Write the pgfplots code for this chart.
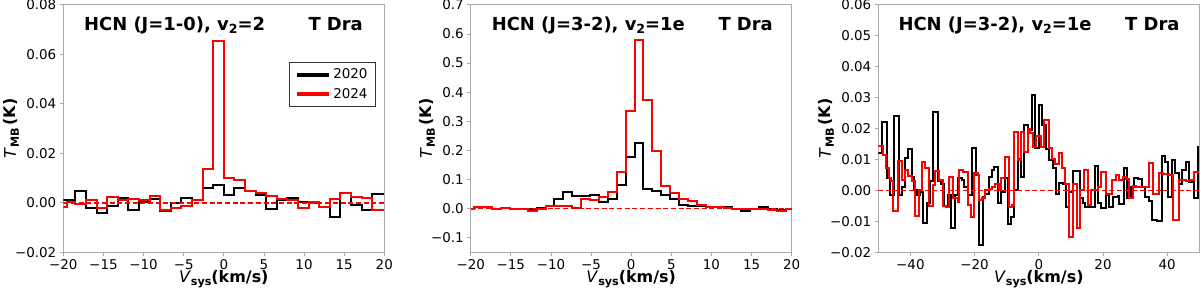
\documentclass[border=0pt]{standalone}
\usepackage{fontspec}
\setmainfont{DejaVu Sans}[ItalicFont={DejaVu Sans Oblique},BoldFont={DejaVu Sans Bold},BoldItalicFont={DejaVu Sans Bold Oblique}]
\usepackage{pgfplots}
\pgfplotsset{compat=1.18}
\definecolor{spine}{RGB}{170,170,170}
\newcommand{\tfont}{\fontsize{18}{18}\selectfont\bfseries}
\newcommand{\tsub}[1]{\raisebox{-3.5bp}{\fontsize{12.6}{12.6}\selectfont\bfseries #1}}
\newcommand{\ylab}{{\fontsize{16}{16}\selectfont\textit{T}\raisebox{-3bp}{\fontsize{11.2}{11.2}\selectfont\bfseries MB}\,\textbf{(K)}}}
\newcommand{\xlab}{{\fontsize{16}{16}\selectfont\textit{V}\raisebox{-3bp}{\fontsize{11.2}{11.2}\selectfont\bfseries sys}\textbf{(km/s)}}}
\pgfplotsset{
  panel/.style={
    scale only axis, width=321bp, height=247.5bp, anchor=south west,
    axis line style={spine, line width=0.8bp},
    tick align=outside, major tick length=3.5bp,
    every tick/.style={spine, line width=0.8bp},
    xtick pos=bottom, ytick pos=left,
    tick label style={font=\fontsize{13.5}{13.5}\selectfont},
    scaled y ticks=false, scaled x ticks=false,
    clip mode=individual,
    xlabel={\xlab}, ylabel={\ylab},
    xlabel style={at={(axis description cs:0.5,-0.124)}, anchor=base, inner sep=0pt},
  },
  dat/.style={line width=2bp, const plot},
  zero/.style={red, line width=1.6bp, dash pattern=on 5bp off 2.7bp, sharp plot},
}
\begin{document}
\begin{tikzpicture}
\useasboundingbox (0,0) rectangle (1200bp,289bp);
% ---------------- Panel 1
\begin{axis}[panel, at={(63.3bp,36.7bp)},
  xmin=-20, xmax=20, ymin=-0.02, ymax=0.08,
  xtick={-20,-15,...,20}, xticklabels={−20,−15,−10,−5,0,5,10,15,20},
  ytick={-0.02,0,0.02,0.04,0.06,0.08}, yticklabels={−0.02,0.00,0.02,0.04,0.06,0.08},
  ylabel style={at={(axis description cs:-0.162,0.5)}, anchor=center},
  legend style={at={(0.972,0.769)}, anchor=north east, draw=black!80, line width=0.6bp,
    font=\fontsize{13.5}{13.5}\selectfont, inner xsep=5bp, inner ysep=4bp, row sep=3bp,
    nodes={inner sep=2.5bp}},
  legend cell align=left,
  legend image code/.code={\draw[#1] (0bp,0bp) -- (32bp,0bp);},
]
\addplot[dat, black, forget plot] coordinates {(-20,0.001) (-18.48,0.0048) (-17.16,-0.002) (-15.84,-0.004) (-14.52,-0.0014) (-13.2,0.002) (-11.88,-0.003) (-10.56,0.0005) (-9.24,0.0014) (-7.92,-0.0035) (-6.6,0.0) (-5.28,0.002) (-3.96,0.001) (-2.64,0.006) (-1.32,0.0073) (0,0.0033) (1.32,0.006) (2.64,0.0046) (3.96,0.003) (5.28,-0.0025) (6.6,0.001) (7.92,0.002) (9.24,0.0005) (10.56,0.0) (11.88,-0.0018) (13.2,-0.0058) (14.52,0.004) (15.84,-0.0008) (17.16,-0.003) (18.48,0.0034) (20,0.0034)};
\addplot[dat, red, forget plot] coordinates {(-20,-0.0018) (-19.6,0.0005) (-18.48,-0.0004) (-17.16,0.0012) (-15.84,-0.002) (-14.52,0.0023) (-13.2,0.001) (-11.88,0.0014) (-10.56,0.001) (-9.24,0.0026) (-7.92,-0.0028) (-6.6,-0.002) (-5.28,-0.0013) (-3.96,0.0013) (-2.64,0.0136) (-1.32,0.0653) (0,0.0102) (1.32,0.0091) (2.64,0.0048) (3.96,0.004) (5.28,0.0026) (6.6,0.0016) (7.92,0.001) (9.24,-0.002) (10.56,0.0004) (11.88,-0.0015) (13.2,0.0014) (14.52,0.004) (15.84,0.0023) (17.16,0.0019) (18.48,-0.003) (20,-0.003)};
\addplot[zero, forget plot] coordinates {(-20,0) (20,0)};
\addlegendimage{black, line width=4bp}
\addlegendentry{2020}
\addlegendimage{red, line width=4bp}
\addlegendentry{2024}
\node[anchor=base west, xshift=17.3bp, yshift=-25.3bp, font=\tfont] at (axis description cs:0,1) {HCN (J=1-0), v\tsub{2}=2};
\node[anchor=base west, xshift=241.7bp, yshift=-25.3bp, font=\tfont] at (axis description cs:0,1) {T Dra};
\end{axis}
% ---------------- Panel 2
\begin{axis}[panel, at={(470.7bp,36.7bp)},
  xmin=-20, xmax=20, ymin=-0.15, ymax=0.7,
  xtick={-20,-15,...,20}, xticklabels={−20,−15,−10,−5,0,5,10,15,20},
  ytick={-0.1,0,0.1,0.2,0.3,0.4,0.5,0.6,0.7}, yticklabels={−0.1,0.0,0.1,0.2,0.3,0.4,0.5,0.6,0.7},
  ylabel style={at={(axis description cs:-0.135,0.5)}, anchor=center},
]
\addplot[dat, black] coordinates {(-20,0) (-19.54,0.006) (-18.43,0.005) (-17.32,0) (-16.21,0.002) (-15.10,0) (-13.99,-0.003) (-12.89,0) (-11.78,0.002) (-10.67,0.01) (-9.56,0.034) (-8.45,0.056) (-7.34,0.042) (-6.23,0.043) (-5.12,0.047) (-4.01,0.024) (-2.90,0.034) (-1.80,0.082) (-0.69,0.176) (0.42,0.225) (1.53,0.066) (2.64,0.062) (3.75,0.048) (4.86,0.033) (5.97,0.014) (7.07,0.01) (8.18,0.01) (9.29,0.006) (10.40,0.006) (11.51,0.006) (12.62,-0.001) (13.73,-0.009) (14.84,-0.003) (15.95,0.006) (17.05,-0.003) (18.16,-0.006) (19.27,0) (20,0)};
\addplot[dat, red] coordinates {(-20,-0.003) (-19.54,0.004) (-18.43,0.005) (-17.32,0) (-16.21,0.001) (-15.10,0) (-13.99,0) (-12.89,-0.007) (-11.78,-0.001) (-10.67,0.008) (-9.56,0.008) (-8.45,0.01) (-7.34,0.002) (-6.23,0.034) (-5.12,0.03) (-4.01,0.04) (-2.90,0.058) (-1.80,0.126) (-0.69,0.336) (0.42,0.578) (1.53,0.372) (2.64,0.199) (3.75,0.079) (4.86,0.054) (5.97,0.033) (7.07,0.025) (8.18,0.014) (9.29,0.006) (10.40,0.006) (11.51,0.003) (12.62,-0.001) (13.73,-0.003) (14.84,-0.003) (15.95,0) (17.05,-0.006) (18.16,-0.009) (19.27,-0.001) (20,-0.001)};
\addplot[zero] coordinates {(-20,0) (20,0)};
\node[anchor=base west, xshift=17.6bp, yshift=-25.3bp, font=\tfont] at (axis description cs:0,1) {HCN (J=3-2), v\tsub{2}=1e};
\node[anchor=base west, xshift=244.3bp, yshift=-25.3bp, font=\tfont] at (axis description cs:0,1) {T Dra};
\end{axis}
% ---------------- Panel 3
\begin{axis}[panel, at={(878.3bp,36.7bp)},
  xmin=-50, xmax=50, ymin=-0.02, ymax=0.06,
  xtick={-40,-20,0,20,40}, xticklabels={−40,−20,0,20,40},
  ytick={-0.02,-0.01,0,0.01,0.02,0.03,0.04,0.05,0.06}, yticklabels={−0.02,−0.01,0.00,0.01,0.02,0.03,0.04,0.05,0.06},
  ylabel style={at={(axis description cs:-0.162,0.5)}, anchor=center},
]
\addplot[dat, black] coordinates {(-50,0.012) (-48.7,0.022) (-47.2,0.004) (-46.4,-0.0015) (-45.0,0.024) (-43.7,-0.0015) (-42.6,0.001) (-41.6,0.0105) (-40.6,0.0135) (-39.6,0.0045) (-38.8,0.0) (-37.8,-0.0015) (-36.9,-0.0005) (-36.2,-0.0105) (-34.9,-0.004) (-33.9,0.003) (-32.9,0.0255) (-31.5,0.003) (-30.5,0.002) (-29.4,-0.005) (-28.4,-0.0015) (-27.4,-0.012) (-26.1,-0.0015) (-25.1,0.004) (-24.0,0.0035) (-23.2,0.001) (-22.2,-0.0015) (-20.8,0.0136) (-19.6,0.005) (-18.7,-0.0177) (-17.5,-0.002) (-16.7,-0.001) (-15.6,0.0044) (-14.6,0.0066) (-13.9,0.0077) (-12.8,-0.004) (-11.8,-0.0005) (-10.4,0.004) (-9.7,-0.0107) (-8.7,-0.0085) (-7.6,0.0) (-6.6,0.010) (-5.5,0.0045) (-4.5,0.021) (-3.5,0.0195) (-2.2,0.031) (-1.2,0.0136) (0.1,0.0276) (1.1,0.021) (2.1,0.0135) (3.2,0.0098) (4.3,0.0074) (5.3,-0.001) (6.4,0.0023) (7.4,0.002) (8.5,-0.0053) (9.5,-0.0005) (10.5,0.0064) (11.4,0.0064) (12.9,-0.0026) (13.7,-0.004) (14.5,-0.0053) (16.3,-0.0055) (17.6,0.0079) (18.3,-0.004) (19.4,-0.0058) (20.9,-0.0015) (22.0,-0.0053) (23.2,-0.002) (24.6,-0.0018) (25.1,-0.0045) (26.6,0.0071) (27.6,-0.0026) (28.7,0.001) (29.7,0.004) (30.8,0.0038) (32.1,0.001) (33.2,-0.002) (34.2,-0.0035) (35.3,-0.0096) (36.8,-0.010) (38.4,0.011) (39.4,0.0093) (40.4,-0.002) (41.5,0.0098) (42.5,0.0057) (43.6,0.002) (44.6,0.0066) (45.8,0.0093) (46.9,0.0028) (48.4,-0.0026) (49.5,0.014) (50,0.014)};
\addplot[dat, red] coordinates {(-50,0.0145) (-48.4,0.0115) (-47.6,0.0074) (-46.8,0.004) (-46.0,0.003) (-45.3,-0.0067) (-44.0,0.0096) (-42.6,0.0033) (-41.6,0.0066) (-40.6,0.0047) (-39.5,0.003) (-38.6,-0.0083) (-37.4,0.0) (-36.4,0.0093) (-35.4,0.0071) (-34.3,-0.005) (-33.1,0.0017) (-32.2,0.0064) (-31.2,0.0033) (-30.0,-0.005) (-28.9,-0.0055) (-27.9,0.0044) (-26.8,-0.0026) (-25.3,-0.0037) (-24.8,0.0066) (-23.5,0.006) (-22.2,-0.0047) (-21.1,-0.0085) (-20.1,0.0055) (-19.1,0.005) (-18.5,-0.003) (-17.7,-0.0025) (-16.7,0.0) (-15.6,0.0006) (-14.6,0.001) (-13.6,0.0022) (-12.5,0.0) (-11.8,0.0039) (-10.4,0.0109) (-9.4,-0.0053) (-8.4,-0.0047) (-7.6,0.019) (-6.6,0.0098) (-5.5,0.019) (-4.5,0.0125) (-3.5,0.020) (-2.7,0.0184) (-1.7,0.0141) (-0.9,0.0175) (0.7,0.0141) (1.7,0.0228) (3.1,0.0136) (4.1,0.010) (5.1,0.0085) (6.2,0.0122) (7.2,0.0071) (8.3,0.002) (9.5,-0.015) (10.5,0.002) (11.8,-0.0123) (12.9,0.0) (14.2,0.0066) (15.2,-0.0047) (16.3,0.0) (17.3,0.0) (18.3,0.001) (19.4,0.006) (20.9,-0.001) (21.8,-0.001) (22.8,0.0033) (24.0,0.005) (25.1,0.0033) (26.1,0.0043) (27.2,0.0038) (28.2,-0.0026) (29.2,0.0014) (30.3,0.001) (31.8,0.001) (33.4,0.001) (34.4,0.009) (35.5,-0.001) (36.3,-0.001) (37.3,0.0055) (38.6,0.0052) (39.6,0.0052) (40.7,0.005) (41.7,-0.0096) (43.7,0.0033) (44.8,0.0033) (45.9,0.0031) (47.0,0.0033) (48.5,0.006) (50,0.006)};
\addplot[zero] coordinates {(-50,0) (50,0)};
\node[anchor=base west, xshift=16.7bp, yshift=-25.3bp, font=\tfont] at (axis description cs:0,1) {HCN (J=3-2), v\tsub{2}=1e};
\node[anchor=base west, xshift=243.4bp, yshift=-25.3bp, font=\tfont] at (axis description cs:0,1) {T Dra};
\end{axis}
\end{tikzpicture}
\end{document}
